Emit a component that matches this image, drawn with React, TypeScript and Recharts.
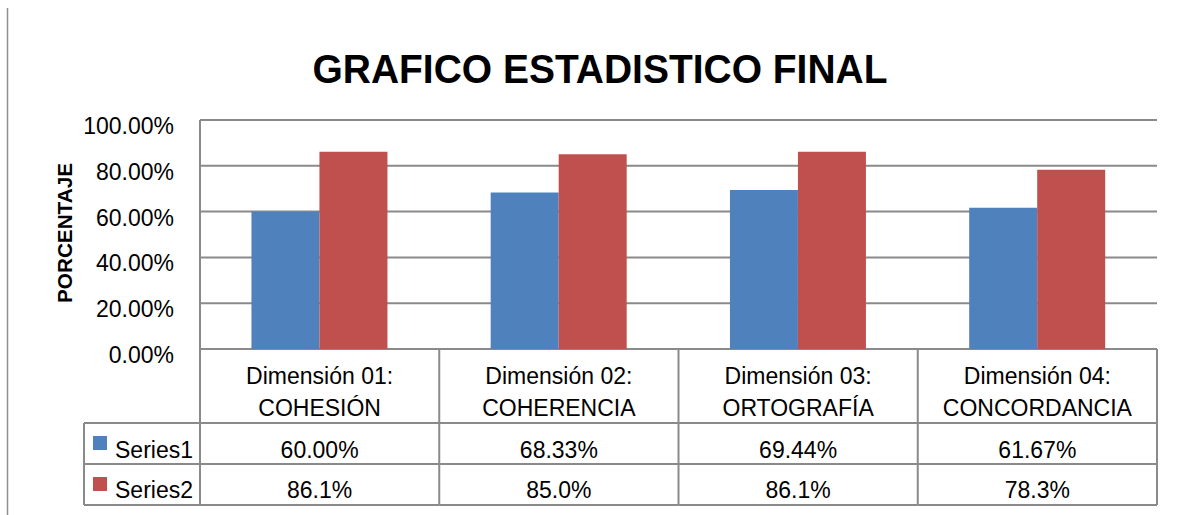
import React from 'react';
import { BarChart, Bar, XAxis, YAxis, CartesianGrid } from 'recharts';

const dimensionLabels = ['Dimensión 01:', 'Dimensión 02:', 'Dimensión 03:', 'Dimensión 04:'];
const dimensionNames = ['COHESIÓN', 'COHERENCIA', 'ORTOGRAFÍA', 'CONCORDANCIA'];
const series1 = [60.0, 68.33, 69.44, 61.67];
const series2 = [86.1, 85.0, 86.1, 78.3];
const seriesNames = ['Series1', 'Series2'];
const yTicks = [0, 20, 40, 60, 80, 100];

const data = dimensionLabels.map((label, i) => ({
    name: label + ' ' + dimensionNames[i],
    s1: series1[i],
    s2: series2[i],
}));

const W = 1183;
const H = 515;
const PLOT_LEFT = 200;
const PLOT_RIGHT = 1157;
const CAT_W = (PLOT_RIGHT - PLOT_LEFT) / dimensionLabels.length;
const BLUE = '#4F81BD';
const RED = '#C0504D';
const LINE = '#8a8a8a';
const FONT = '"Liberation Sans", Arial, sans-serif';

// row bottoms below the axis, in px
const ROW1 = 74;
const ROW2 = 115;
const ROW3 = 156;

function YTick(props: any) {
    const { x, y, payload } = props;
    return (
        <text x={x} y={y + 14} textAnchor="end" fontSize={23} fontFamily={FONT} fill="#000">
            {payload.value.toFixed(2) + '%'}
        </text>
    );
}

function TableTick(props: any) {
    const { x, y, index } = props;
    const l = x - CAT_W / 2;
    const r = x + CAT_W / 2;
    const txt = { fontSize: 23, fontFamily: FONT, fill: '#000', textAnchor: 'middle' as const };
    const last = index === dimensionLabels.length - 1;
    return (
        <g>
            <line x1={l} x2={l} y1={y} y2={y + ROW3} stroke={LINE} strokeWidth={2} />
            {last && <line x1={r} x2={r} y1={y} y2={y + ROW3} stroke={LINE} strokeWidth={2} />}
            <line x1={l} x2={r} y1={y + ROW1} y2={y + ROW1} stroke={LINE} strokeWidth={2} />
            <line x1={l} x2={r} y1={y + ROW2} y2={y + ROW2} stroke={LINE} strokeWidth={2} />
            <line x1={l} x2={r} y1={y + ROW3} y2={y + ROW3} stroke={LINE} strokeWidth={2} />
            <text x={x} y={y + 35} {...txt}>{dimensionLabels[index]}</text>
            <text x={x} y={y + 67} {...txt}>{dimensionNames[index]}</text>
            <text x={x} y={y + 109} {...txt}>{series1[index].toFixed(2) + '%'}</text>
            <text x={x} y={y + 149} {...txt}>{series2[index].toFixed(1) + '%'}</text>
            {index === 0 && (
                <g>
                    <line x1={84} x2={l} y1={y + ROW1} y2={y + ROW1} stroke={LINE} strokeWidth={2} />
                    <line x1={84} x2={l} y1={y + ROW2} y2={y + ROW2} stroke={LINE} strokeWidth={2} />
                    <line x1={84} x2={l} y1={y + ROW3} y2={y + ROW3} stroke={LINE} strokeWidth={2} />
                    <line x1={84} x2={84} y1={y + ROW1} y2={y + ROW3} stroke={LINE} strokeWidth={2} />
                    <rect x={93} y={y + 87} width={14} height={14} fill={BLUE} />
                    <rect x={93} y={y + 128} width={14} height={14} fill={RED} />
                    <text x={115} y={y + 109} fontSize={23} fontFamily={FONT} fill="#000">{seriesNames[0]}</text>
                    <text x={115} y={y + 149} fontSize={23} fontFamily={FONT} fill="#000">{seriesNames[1]}</text>
                </g>
            )}
        </g>
    );
}

export default function App() {
    return (
        <div style={{ position: 'absolute', left: 0, top: 0, width: W, height: H, background: '#fff' }}>
            <BarChart
                width={W}
                height={H}
                data={data}
                margin={{ top: 120, right: W - PLOT_RIGHT, bottom: 0, left: 80 }}
                barCategoryGap="21.5%"
                barGap={0}
            >
                <CartesianGrid vertical={false} stroke={LINE} strokeWidth={2} />
                <XAxis
                    dataKey="name"
                    height={166}
                    interval={0}
                    axisLine={false}
                    tickLine={false}
                    tickSize={0}
                    tickMargin={0}
                    tick={<TableTick />}
                />
                <YAxis
                    width={120}
                    domain={[0, 100]}
                    ticks={yTicks}
                    axisLine={{ stroke: LINE, strokeWidth: 2 }}
                    tickLine={false}
                    tickSize={0}
                    tickMargin={26}
                    tick={<YTick />}
                />
                <Bar dataKey="s1" fill={BLUE} isAnimationActive={false} />
                <Bar dataKey="s2" fill={RED} isAnimationActive={false} />
            </BarChart>
            <svg
                width={W}
                height={H}
                style={{ position: 'absolute', left: 0, top: 0, pointerEvents: 'none' }}
            >
                <line x1={7.5} x2={7.5} y1={8} y2={H} stroke="#8f8f8f" strokeWidth={1.5} />
                <text
                    x={600}
                    y={83}
                    textAnchor="middle"
                    fontSize={40}
                    fontWeight="bold"
                    fontFamily={FONT}
                    textLength={575}
                    lengthAdjust="spacingAndGlyphs"
                >
                    GRAFICO ESTADISTICO FINAL
                </text>
                <text
                    transform="translate(72, 233) rotate(-90)"
                    textAnchor="middle"
                    fontSize={21}
                    fontWeight="bold"
                    fontFamily={FONT}
                    textLength={140}
                    lengthAdjust="spacingAndGlyphs"
                >
                    PORCENTAJE
                </text>
            </svg>
        </div>
    );
}
